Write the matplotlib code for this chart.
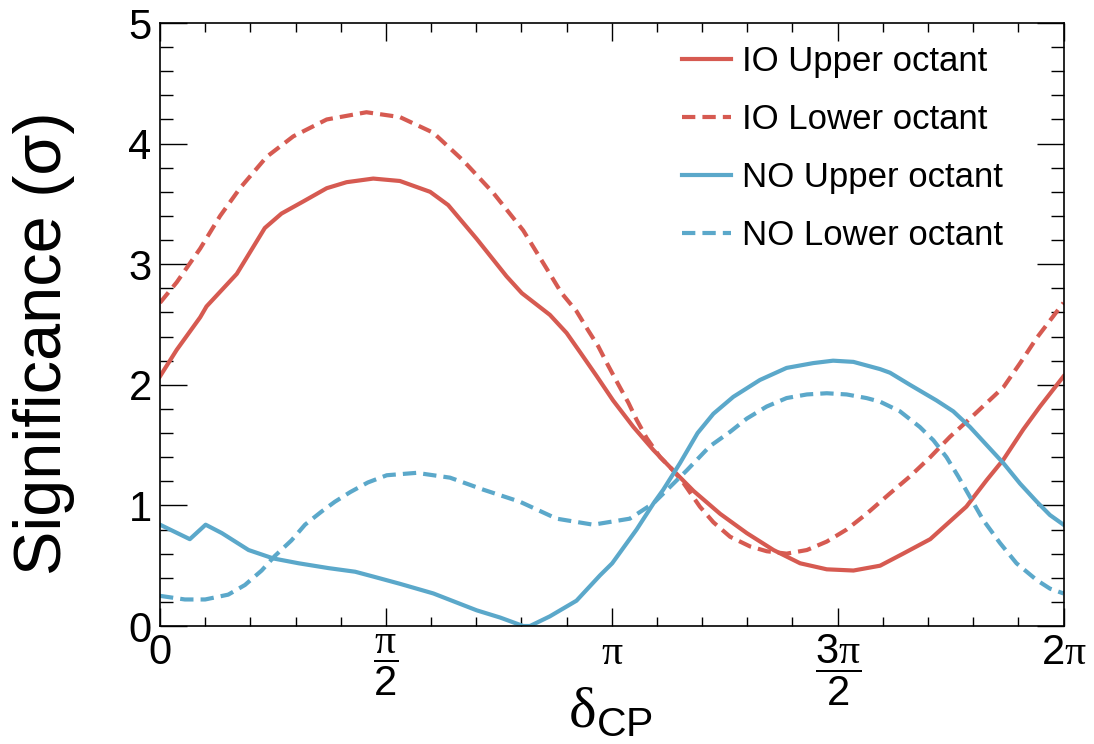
import numpy as np
import matplotlib
matplotlib.use("Agg")
import matplotlib.pyplot as plt
from matplotlib.ticker import MultipleLocator, FixedLocator, FixedFormatter

plt.rcParams['font.family'] = ['Liberation Sans', 'DejaVu Sans']
plt.rcParams['mathtext.fontset'] = 'custom'
plt.rcParams['mathtext.rm'] = 'Liberation Sans'
plt.rcParams['mathtext.sf'] = 'Liberation Serif'   # serif greek letters

# delta_CP values in units of pi, significance in sigma
io_upper_x = [0, 0.037, 0.089, 0.103, 0.170, 0.232, 0.269, 0.317, 0.369, 0.413, 0.472,
              0.531, 0.598, 0.638, 0.701, 0.767, 0.801, 0.863, 0.900, 0.930, 0.967,
              1.003, 1.048, 1.092, 1.136, 1.181, 1.240, 1.299, 1.358, 1.417, 1.476,
              1.535, 1.594, 1.645, 1.705, 1.785, 1.830, 1.867, 1.911, 1.948, 2.0]
io_upper_y = [2.07, 2.29, 2.56, 2.65, 2.92, 3.30, 3.42, 3.52, 3.63, 3.68, 3.71,
              3.69, 3.60, 3.49, 3.21, 2.90, 2.76, 2.58, 2.43, 2.27, 2.07,
              1.87, 1.65, 1.46, 1.29, 1.12, 0.93, 0.77, 0.63, 0.52, 0.47,
              0.46, 0.50, 0.60, 0.72, 0.99, 1.21, 1.38, 1.63, 1.82, 2.07]

io_lower_x = [0, 0.037, 0.089, 0.133, 0.177, 0.236, 0.295, 0.369, 0.457, 0.531, 0.605,
              0.671, 0.738, 0.804, 0.863, 0.889, 0.922, 0.948, 0.970, 0.992, 1.015,
              1.037, 1.055, 1.077, 1.107, 1.136, 1.158, 1.195, 1.225, 1.262, 1.306,
              1.343, 1.387, 1.432, 1.476, 1.520, 1.564, 1.616, 1.660, 1.705, 1.749,
              1.793, 1.830, 1.867, 1.904, 1.941, 2.0]
io_lower_y = [2.68, 2.85, 3.13, 3.40, 3.63, 3.89, 4.06, 4.20, 4.26, 4.22, 4.09,
              3.86, 3.59, 3.28, 2.92, 2.76, 2.61, 2.45, 2.32, 2.16, 2.00,
              1.85, 1.71, 1.56, 1.40, 1.29, 1.19, 0.99, 0.86, 0.74, 0.66,
              0.62, 0.60, 0.63, 0.70, 0.80, 0.93, 1.10, 1.24, 1.40, 1.57,
              1.72, 1.85, 1.98, 2.18, 2.39, 2.68]

no_upper_x = [0, 0.066, 0.101, 0.137, 0.196, 0.251, 0.307, 0.373, 0.432, 0.472, 0.531,
              0.605, 0.701, 0.753, 0.804, 0.819, 0.863, 0.922, 0.974, 1.001, 1.055,
              1.093, 1.114, 1.151, 1.190, 1.225, 1.269, 1.328, 1.387, 1.446, 1.490,
              1.535, 1.594, 1.616, 1.660, 1.719, 1.756, 1.793, 1.830, 1.867, 1.904,
              1.941, 1.970, 2.0]
no_upper_y = [0.84, 0.72, 0.84, 0.77, 0.63, 0.56, 0.52, 0.48, 0.45, 0.41, 0.35,
              0.27, 0.13, 0.07, 0.0, 0.0, 0.08, 0.21, 0.42, 0.52, 0.80,
              1.02, 1.13, 1.35, 1.60, 1.76, 1.90, 2.04, 2.14, 2.18, 2.20,
              2.19, 2.13, 2.10, 2.00, 1.87, 1.78, 1.65, 1.50, 1.35, 1.18,
              1.03, 0.92, 0.84]

no_lower_x = [0, 0.055, 0.100, 0.151, 0.188, 0.225, 0.254, 0.291, 0.321, 0.358, 0.387,
              0.421, 0.460, 0.502, 0.568, 0.642, 0.716, 0.797, 0.878, 0.959, 1.040, 1.093,
              1.166, 1.217, 1.262, 1.299, 1.343, 1.387, 1.432, 1.476, 1.520, 1.564,
              1.594, 1.638, 1.682, 1.712, 1.741, 1.767, 1.793, 1.822, 1.859, 1.896,
              1.941, 1.970, 2.0]
no_lower_y = [0.25, 0.22, 0.22, 0.26, 0.34, 0.46, 0.58, 0.71, 0.84, 0.95, 1.03,
              1.11, 1.19, 1.25, 1.27, 1.23, 1.13, 1.03, 0.89, 0.84, 0.89, 1.02,
              1.29, 1.49, 1.61, 1.72, 1.82, 1.89, 1.92, 1.93, 1.92, 1.89,
              1.86, 1.78, 1.65, 1.54, 1.40, 1.24, 1.07, 0.88, 0.69, 0.52,
              0.38, 0.31, 0.27]

series = [
    ("IO Upper octant", io_upper_x, io_upper_y, '#d65a51', '-'),
    ("IO Lower octant", io_lower_x, io_lower_y, '#d65a51', (0, (3.2, 1.7))),
    ("NO Upper octant", no_upper_x, no_upper_y, '#5ba8ca', '-'),
    ("NO Lower octant", no_lower_x, no_lower_y, '#5ba8ca', (0, (3.2, 1.7))),
]

xtick_pos = [0, 0.5, 1.0, 1.5, 2.0]
xtick_lab = ['0', r'$\dfrac{\mathsf{\pi}}{\mathrm{2}}$', r'$\mathsf{\pi}$',
             r'$\dfrac{\mathrm{3}\mathsf{\pi}}{\mathrm{2}}$', r'$\mathrm{2}\mathsf{\pi}$']

W, H = 1094, 744
fig = plt.figure(figsize=(W / 100, H / 100), dpi=100)
ax = fig.add_axes([160 / W, 118 / H, 903.5 / W, 603 / H])

for label, xs, ys, col, ls in series:
    ax.plot(np.array(xs) * np.pi, ys, color=col, linestyle=ls, lw=3.0, label=label)

ax.set_xlim(0, 2 * np.pi)
ax.set_ylim(0, 5)

ax.xaxis.set_major_locator(FixedLocator(np.array(xtick_pos) * np.pi))
ax.xaxis.set_major_formatter(FixedFormatter(xtick_lab))
ax.xaxis.set_minor_locator(MultipleLocator(np.pi / 10))
ax.yaxis.set_major_locator(MultipleLocator(1))
ax.yaxis.set_minor_locator(MultipleLocator(0.2))

ax.tick_params(which='both', direction='in', top=True, right=True, width=1.0,
               labelsize=30, color='black')
ax.tick_params(axis='x', which='major', length=13, pad=5)
ax.tick_params(axis='x', which='minor', length=6.5)
ax.tick_params(axis='y', which='major', length=19.5, pad=6)
ax.tick_params(axis='y', which='minor', length=9.5)
for sp in ax.spines.values():
    sp.set_linewidth(1.2)

fig.text(44 / W, 1 - 343.5 / H, "Significance (σ)", rotation=90, fontsize=48,
         ha='center', va='center')
fig.text(610 / W, 1 - 711 / H, r'$\mathsf{\delta}_{\mathrm{CP}}$', fontsize=42,
         ha='center', va='center')

ax.legend(loc='upper left', bbox_to_anchor=(681.9 / W, 1 - 45 / H),
          bbox_transform=fig.transFigure, frameon=False, fontsize=25,
          handlelength=1.41, handletextpad=0.33, labelspacing=0.72,
          borderpad=0, borderaxespad=0)

fig.savefig('out.png', dpi=100)
